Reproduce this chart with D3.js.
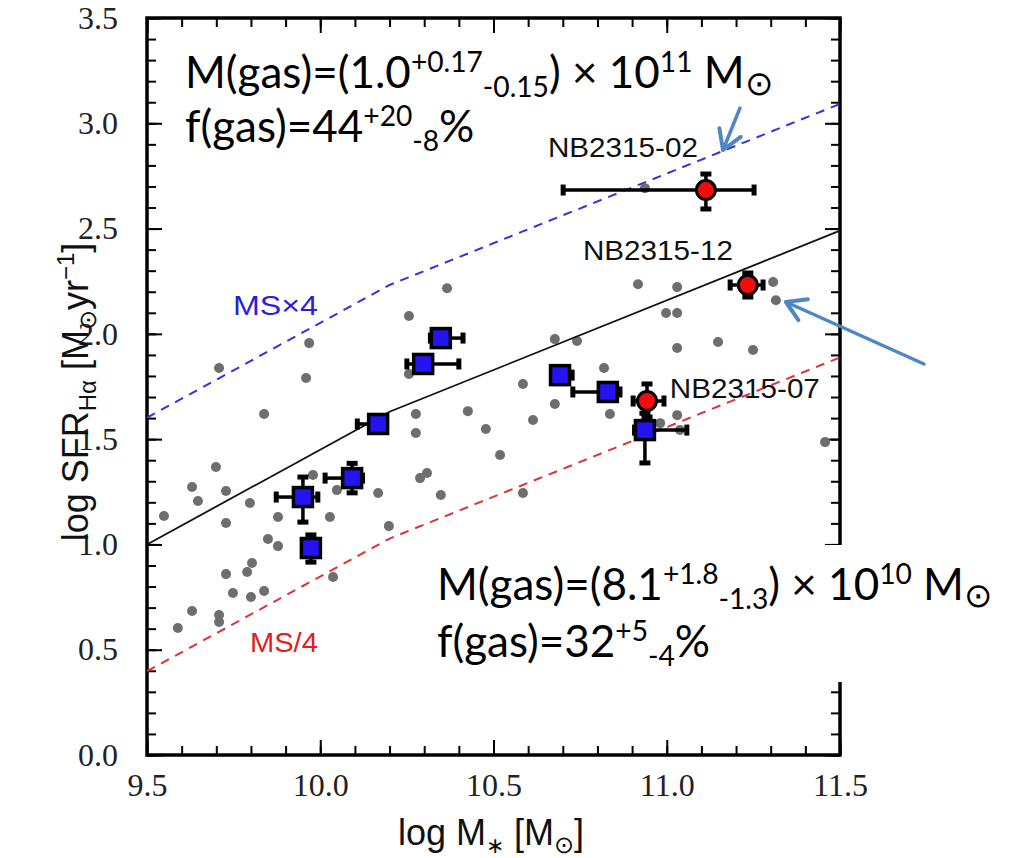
<!DOCTYPE html>
<html><head><meta charset="utf-8">
<script src="https://cdn.jsdelivr.net/npm/d3@7/dist/d3.min.js"></script>
<style>body{margin:0;background:#fff;} svg{display:block}</style>
</head><body><svg id="c" width="1011" height="858"></svg>
<script>
// ---------- data ----------
const xTickValues = [9.5, 10.0, 10.5, 11.0, 11.5];
const yTickValues = [0.0, 0.5, 1.0, 1.5, 2.0, 2.5, 3.0, 3.5];
const msMass = [9.5, 10.2, 11.5];
const msSFR  = [1.0, 1.63, 2.49];
const msFactor = 4;

const grayMass = [10.937,10.917,11.030,11.307,11.315,10.998,11.030,10.677,10.741,11.030,11.148,11.249,10.819,10.585,
  10.677,10.614,10.836,11.030,10.981,11.038,11.457,10.519,10.585,10.366,10.256,9.968,9.708,9.959,10.256,9.838,10.276,
  10.426,10.276,10.478,9.699,9.630,9.728,9.647,9.797,9.979,10.048,10.167,10.288,10.308,10.348,9.549,9.728,9.878,10.028,
  10.198,9.849,9.878,9.803,9.789,9.728,10.037,9.748,9.800,9.838,9.630,9.708,9.708,9.589];
const graySFR = [2.692,2.236,2.222,2.246,2.160,2.099,2.099,1.975,1.966,1.933,1.961,1.923,1.838,1.762,
  1.667,1.591,1.619,1.614,1.576,1.543,1.486,1.425,1.244,2.217,2.085,1.956,1.838,1.790,1.809,1.619,1.619,
  1.633,1.529,1.548,1.368,1.273,1.254,1.206,1.197,1.330,1.258,1.244,1.315,1.339,1.235,1.135,1.102,1.130,1.130,
  1.087,1.026,0.992,0.912,0.869,0.859,0.845,0.769,0.750,0.779,0.684,0.665,0.632,0.603];

const blueMass  = [10.167,10.348,10.297,10.092,9.950,9.973,10.692,10.830,10.937];
const blueSFR   = [1.572,1.980,1.857,1.315,1.225,0.983,1.804,1.724,1.543];
const blueMassLo= [0.060,0.030,0.047,0.078,0.077,0.000,0.000,0.101,0.030];
const blueMassHi= [0.000,0.064,0.103,0.030,0.043,0.000,0.035,0.035,0.121];
const blueSFRLo = [0.000,0.000,0.000,0.070,0.119,0.067,0.040,0.030,0.156];
const blueSFRHi = [0.000,0.030,0.000,0.070,0.095,0.062,0.040,0.030,0.080];

const redName   = ["NB2315-02","NB2315-12","NB2315-07"];
const redMass   = [11.113,11.234,10.943];
const redSFR    = [2.683,2.232,1.681];
const redMassLo = [0.412,0.051,0.040];
const redMassHi = [0.139,0.044,0.049];
const redSFRLo  = [0.090,0.057,0.076];
const redSFRHi  = [0.076,0.057,0.081];

// ---------- layout ----------
const svg = d3.select("#c");
const L = 147, R = 840, T = 18, B = 755;
const x = d3.scaleLinear().domain([9.5, 11.5]).range([L, R]);
const y = d3.scaleLinear().domain([0, 3.5]).range([B, T]);
const minorX = d3.range(95, 116).map(v => v / 10);
const minorY = d3.range(0, 36).map(v => v / 10);

const tickFont = "'Liberation Serif', 'Times New Roman', serif";
function styleAxis(g) {
  g.select(".domain").remove();
  g.selectAll(".tick line").attr("stroke", "#000").attr("stroke-width", 2);
  g.selectAll(".tick text").attr("font-family", tickFont).attr("font-size", 32).attr("fill", "#222");
}
svg.append("g").attr("transform", `translate(0,${B})`)
  .call(d3.axisBottom(x).tickValues(minorX).tickSize(-9).tickFormat("")).call(styleAxis);
svg.append("g").attr("transform", `translate(0,${B})`)
  .call(d3.axisBottom(x).tickValues(xTickValues).tickSize(-15).tickPadding(18).tickFormat(d3.format(".1f"))).call(styleAxis);
svg.append("g").attr("transform", `translate(0,${T})`)
  .call(d3.axisTop(x).tickValues(minorX).tickSize(-9).tickFormat("")).call(styleAxis);
svg.append("g").attr("transform", `translate(0,${T})`)
  .call(d3.axisTop(x).tickValues(xTickValues).tickSize(-15).tickFormat("")).call(styleAxis);
svg.append("g").attr("transform", `translate(${L},0)`)
  .call(d3.axisLeft(y).tickValues(minorY).tickSize(-9).tickFormat("")).call(styleAxis);
svg.append("g").attr("transform", `translate(${L},0)`)
  .call(d3.axisLeft(y).tickValues(yTickValues).tickSize(-15).tickPadding(29).tickFormat(d3.format(".1f"))).call(styleAxis);
svg.append("g").attr("transform", `translate(${R},0)`)
  .call(d3.axisRight(y).tickValues(minorY).tickSize(-9).tickFormat("")).call(styleAxis);
svg.append("g").attr("transform", `translate(${R},0)`)
  .call(d3.axisRight(y).tickValues(yTickValues).tickSize(-15).tickFormat("")).call(styleAxis);

svg.append("rect").attr("x", L).attr("y", T).attr("width", R - L).attr("height", B - T)
  .attr("fill", "none").attr("stroke", "#000").attr("stroke-width", 3.5);

// ---------- gray sample ----------
svg.append("g").selectAll("circle").data(grayMass).join("circle")
  .attr("cx", (d) => x(d)).attr("cy", (d, i) => y(graySFR[i])).attr("r", 5).attr("fill", "#6e6e6e");

// ---------- main sequence lines ----------
const msPts = msMass.map((m, i) => [m, msSFR[i]]);
const line = d3.line().x(d => x(d[0])).y(d => y(d[1]));
const off = Math.log10(msFactor);
svg.append("path").attr("d", line(msPts)).attr("fill", "none").attr("stroke", "#111").attr("stroke-width", 1.8);
svg.append("path").attr("d", line(msPts.map(p => [p[0], p[1] + off]))).attr("fill", "none")
  .attr("stroke", "#3a2ee0").attr("stroke-width", 2).attr("stroke-dasharray", "9,7");
svg.append("path").attr("d", line(msPts.map(p => [p[0], p[1] - off]))).attr("fill", "none")
  .attr("stroke", "#e0303a").attr("stroke-width", 2).attr("stroke-dasharray", "9,7");

const labFont = "'Liberation Sans', Arial, Helvetica, sans-serif";
svg.append("text").attr("x", x(9.748)).attr("y", y(2.089)).attr("font-family", labFont).attr("font-size", 27)
  .attr("fill", "#2a1fe0").attr("textLength", 85).attr("lengthAdjust", "spacingAndGlyphs").text("MS×4");
svg.append("text").attr("x", x(9.797)).attr("y", y(0.489)).attr("font-family", labFont).attr("font-size", 27)
  .attr("fill", "#e02020").attr("textLength", 68).attr("lengthAdjust", "spacingAndGlyphs").text("MS/4");

// ---------- error bars ----------
function errorBars(g, mx, sy, mlo, mhi, slo, shi) {
  mx.forEach((m, i) => {
    const cx = x(m), cy = y(sy[i]);
    const segs = [];
    if (mlo[i] > 0) segs.push({x1: cx, y1: cy, x2: x(m - mlo[i]), y2: cy, h: true});
    if (mhi[i] > 0) segs.push({x1: cx, y1: cy, x2: x(m + mhi[i]), y2: cy, h: true});
    if (slo[i] > 0) segs.push({x1: cx, y1: cy, x2: cx, y2: y(sy[i] - slo[i]), h: false});
    if (shi[i] > 0) segs.push({x1: cx, y1: cy, x2: cx, y2: y(sy[i] + shi[i]), h: false});
    segs.forEach(s => {
      g.append("line").attr("x1", s.x1).attr("y1", s.y1).attr("x2", s.x2).attr("y2", s.y2)
        .attr("stroke", "#000").attr("stroke-width", 3.5);
      if (s.h) g.append("rect").attr("x", s.x2 - 2.5).attr("y", s.y2 - 5.5).attr("width", 5).attr("height", 11).attr("fill", "#000");
      else g.append("rect").attr("x", s.x2 - 5.5).attr("y", s.y2 - 2.5).attr("width", 11).attr("height", 5).attr("fill", "#000");
    });
  });
}
const eg = svg.append("g");
errorBars(eg, blueMass, blueSFR, blueMassLo, blueMassHi, blueSFRLo, blueSFRHi);
errorBars(eg, redMass, redSFR, redMassLo, redMassHi, redSFRLo, redSFRHi);

svg.append("g").selectAll("rect").data(blueMass).join("rect")
  .attr("x", d => x(d) - 9.5).attr("y", (d, i) => y(blueSFR[i]) - 9.5).attr("width", 19).attr("height", 19)
  .attr("fill", "#2414f2").attr("stroke", "#000").attr("stroke-width", 3.5);
svg.append("g").selectAll("circle").data(redMass).join("circle")
  .attr("cx", d => x(d)).attr("cy", (d, i) => y(redSFR[i])).attr("r", 9.5)
  .attr("fill", "#f20d0d").attr("stroke", "#000").attr("stroke-width", 3);

// object labels
const labelMass = [10.657, 10.758, 11.009];
const labelSFR  = [2.84, 2.35, 1.695];
svg.append("g").selectAll("text").data(redName).join("text")
  .attr("x", (d, i) => x(labelMass[i])).attr("y", (d, i) => y(labelSFR[i]))
  .attr("font-family", labFont).attr("font-size", 28).attr("fill", "#111")
  .attr("textLength", 150).attr("lengthAdjust", "spacingAndGlyphs").text(d => d);

// ---------- axis titles ----------
const xt = svg.append("text").attr("x", 491).attr("y", 845).attr("text-anchor", "middle")
  .attr("font-family", labFont).attr("font-size", 36).attr("fill", "#111");
xt.append("tspan").text("log M");
xt.append("tspan").attr("font-size", 22).attr("dy", 8).text("∗");
xt.append("tspan").attr("dy", -8).text(" [M");
xt.append("tspan").attr("font-size", 24).attr("dy", 8).text("⊙");
xt.append("tspan").attr("dy", -8).text("]");

const yt = svg.append("text").attr("transform", "translate(88,392) rotate(-90)").attr("text-anchor", "middle")
  .attr("font-family", labFont).attr("font-size", 36).attr("fill", "#111");
yt.append("tspan").text("log SFR");
yt.append("tspan").attr("font-size", 24).attr("dy", 8).text("Hα");
yt.append("tspan").attr("dy", -8).text(" [M");
yt.append("tspan").attr("font-size", 24).attr("dy", 8).text("⊙");
yt.append("tspan").attr("dy", -8).text("yr");
yt.append("tspan").attr("font-size", 24).attr("dy", -14).text("−1");
yt.append("tspan").attr("dy", 14).text("]");

// ---------- gas annotations ----------
const annFont = "Lato, 'Open Sans', sans-serif";
function rich(x0, y0, fs, parts) {
  const t = svg.append("text").attr("x", x0).attr("y", y0).attr("font-family", annFont)
    .attr("font-size", fs).attr("fill", "#000");
  let cur = 0;
  parts.forEach(p => {
    const target = p[1] === "sup" ? -0.36 * fs : p[1] === "sub" ? 0.2 * fs : p[1] === "sun" ? 0.16 * fs : 0;
    const ts = t.append("tspan").attr("dy", target - cur).text(p[0]);
    if (p[1] === "sup" || p[1] === "sub") ts.attr("font-size", 0.64 * fs);
    if (p[1] === "sun") ts.attr("font-size", 0.78 * fs);
    cur = target;
  });
  return t;
}
// white box behind the lower annotation (it hides the right frame)
svg.append("rect").attr("x", 425).attr("y", 545).attr("width", 586).attr("height", 137).attr("fill", "#fff");

const AF = 44;
rich(185, 88, AF, [["M(gas)=(1.0","n"],["+0.17","sup"],["-0.15","sub"],[")","n"],[" × ","x"],["10","n"],["11","sup"],[" M","n"],["⊙","sun"]]);
rich(185, 142, AF, [["f(gas)=44","n"],["+20","sup"],["-8","sub"],["%","n"]]);
rich(437, 600, AF, [["M(gas)=(8.1","n"],["+1.8","sup"],["-1.3","sub"],[")","n"],[" × ","x"],["10","n"],["10","sup"],[" M","n"],["⊙","sun"]]);
rich(437, 657, AF, [["f(gas)=32","n"],["+5","sup"],["-4","sub"],["%","n"]]);

// ---------- arrows ----------
const arrowCol = "#4f86c6";
function arrow(x1, y1, x2, y2) {
  const a = Math.atan2(y2 - y1, x2 - x1), hl = 22, ha = 0.55;
  svg.append("line").attr("x1", x1).attr("y1", y1).attr("x2", x2).attr("y2", y2)
    .attr("stroke", arrowCol).attr("stroke-width", 3.5).attr("stroke-linecap", "round");
  const p = d3.path();
  p.moveTo(x2 - hl * Math.cos(a - ha), y2 - hl * Math.sin(a - ha));
  p.lineTo(x2, y2);
  p.lineTo(x2 - hl * Math.cos(a + ha), y2 - hl * Math.sin(a + ha));
  svg.append("path").attr("d", p.toString()).attr("fill", "none").attr("stroke", arrowCol)
    .attr("stroke-width", 4).attr("stroke-linecap", "round").attr("stroke-linejoin", "round");
}
arrow(740, 108, 723, 150);
arrow(924, 364, 786, 302);
</script></body></html>
